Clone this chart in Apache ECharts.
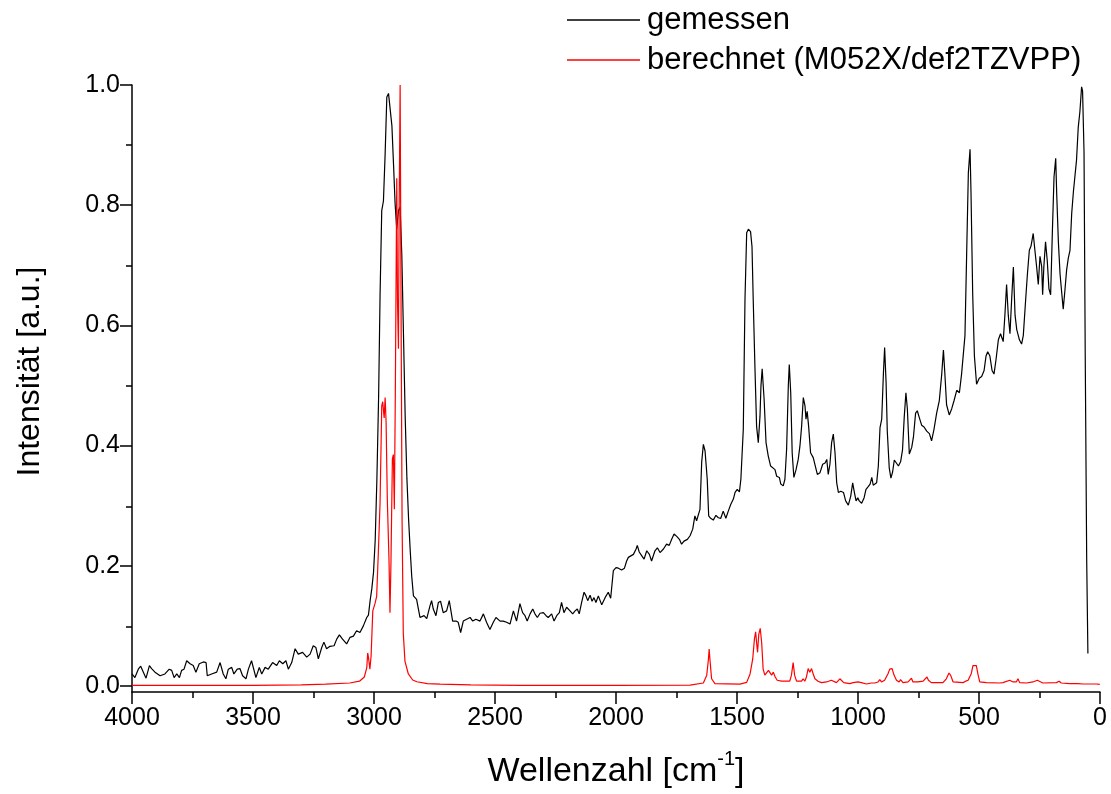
<!DOCTYPE html>
<html><head><meta charset="utf-8">
<script src="https://cdn.jsdelivr.net/npm/echarts@6/dist/echarts.min.js"></script>
<style>html,body{margin:0;padding:0;background:#fff}#c{width:1111px;height:794px}</style>
</head><body><div id="c"></div>
<script>
// measured spectrum (gemessen): wavenumber [cm-1] and intensity
const gemWn = [4000,3988,3974,3964,3953,3942,3928,3919,3905,3884,3864,3846,3836,3826,3815,3804,3795,3785,3774,3760,3747,3736,3722,3705,3694,3689,3671,3650,3636,3623,3612,3602,3588,3579,3565,3554,3543,3529,3519,3506,3499,3488,3474,3464,3450,3437,3419,3402,3391,3377,3364,3354,3340,3326,3313,3295,3278,3264,3251,3240,3230,3216,3207,3196,3182,3165,3154,3143,3130,3113,3099,3085,3072,3058,3044,3030,3023,
3016,3009,3002,2995,2988,2981,2975,2968,2961,2954,2947,2940,2933,2926,2919,2913,2906,2899,2892,2885,2878,2871,2864,2857,2850,2844,
2837,2824,2810,2803,2793,2782,2769,2762,2755,2744,2734,2725,2714,2700,2689,2683,2675,2661,2652,2642,2631,2617,2603,2592,2579,2562,2548,2535,2521,2507,2496,2479,2466,2452,2438,2424,2411,2397,
2386,2376,2367,2355,2344,2335,2325,2314,2300,2289,2280,2266,2256,2245,2234,2225,2215,2204,2190,2179,2169,2160,2152,2142,2132,2124,2117,2107,2099,2091,2083,2073,2059,2045,2032,2022,2011,2000,1990,
1977,1965,1956,1949,1942,1928,1917,1912,1904,1894,1884,1873,1862,1853,1839,1829,1818,1804,1791,1780,1770,1760,1749,1738,1729,1719,1705,1694,1683,1674,1667,1660,1653,1646,1639,1632,1628,1623,1617,1609,1598,1587,1577,1567,1557,1546,1536,1526,1515,1508,1499,1490,1484,1478,1474,
1467,1460,1453,1444,1438,1433,1426,1419,1412,1405,1401,1396,1388,1380,1371,1361,1353,1343,1336,1325,1319,1309,1302,1295,1288,1284,1278,1272,1265,1256,1247,1240,1233,1226,1219,1215,1210,1204,1196,1185,1178,1168,1157,1146,1136,1129,1123,1116,1109,1102,1095,1088,1081,1071,1060,1051,1040,1030,1022,1015,1008,1001,995,985,975,967,957,950,943,937,923,916,909,902,895,890,884,879,871,864,857,850,843,833,824,816,809,802,796,788,778,771,762,755,747,737,727,716,705,696,686,675,664,654,647,641,634,623,613,603,592,581,572,565,558,551,544,537,533,526,519,510,499,489,479,471,464,455,446,438,430,420,411,400,393,386,379,372,365,358,351,344,333,324,317,307,300,292,285,276,269,262,255,248,241,237,232,225,218,211,204,197,190,183,179,172,165,159,152,145,138,131,124,117,110,103,97,90,83,76,72,66,61,55,50];
const gemInt = [0.020,0.014,0.028,0.033,0.023,0.013,0.034,0.029,0.023,0.017,0.020,0.028,0.026,0.014,0.020,0.014,0.026,0.028,0.042,0.037,0.034,0.023,0.037,0.040,0.039,0.017,0.020,0.023,0.039,0.020,0.012,0.028,0.031,0.020,0.028,0.029,0.017,0.012,0.028,0.042,0.039,0.014,0.031,0.020,0.031,0.028,0.039,0.034,0.042,0.037,0.042,0.028,0.039,0.062,0.053,0.056,0.048,0.053,0.067,0.064,0.045,0.064,0.073,0.062,0.066,0.067,0.078,0.085,0.078,0.070,0.081,0.083,0.092,0.089,0.100,0.114,0.118,
0.142,0.162,0.189,0.243,0.345,0.480,0.649,0.791,0.807,0.885,0.980,0.986,0.959,0.932,0.865,0.804,0.760,0.791,0.797,0.716,0.581,0.446,0.345,0.277,0.223,0.182,
0.150,0.144,0.114,0.111,0.117,0.112,0.133,0.142,0.128,0.117,0.139,0.141,0.122,0.125,0.142,0.145,0.108,0.108,0.106,0.089,0.108,0.111,0.114,0.108,0.111,0.108,0.120,0.106,0.094,0.106,0.114,0.108,0.108,0.106,0.103,0.125,0.108,0.137,
0.122,0.117,0.108,0.120,0.128,0.120,0.114,0.121,0.122,0.117,0.114,0.120,0.108,0.117,0.122,0.139,0.122,0.131,0.125,0.120,0.125,0.128,0.120,0.139,0.156,0.150,0.142,0.151,0.141,0.147,0.139,0.150,0.135,0.147,0.156,0.146,0.192,0.197,0.196,
0.193,0.196,0.208,0.214,0.211,0.219,0.228,0.234,0.223,0.217,0.211,0.225,0.219,0.208,0.225,0.230,0.222,0.228,0.236,0.234,0.244,0.253,0.249,0.244,0.236,0.241,0.244,0.250,0.261,0.283,0.275,0.272,0.294,0.372,0.402,0.391,0.388,0.344,0.283,0.279,0.276,0.284,0.280,0.279,0.291,0.279,0.291,0.302,0.311,0.322,0.327,0.323,0.344,0.394,0.427,
0.643,0.754,0.760,0.756,0.731,0.643,0.532,0.432,0.405,0.449,0.499,0.528,0.477,0.405,0.383,0.366,0.369,0.360,0.349,0.347,0.336,0.333,0.344,0.394,0.499,0.535,0.488,0.388,0.347,0.360,0.377,0.399,0.432,0.480,0.466,0.444,0.457,0.432,0.388,0.380,0.377,0.352,0.355,0.369,0.371,0.377,0.352,0.369,0.405,0.419,0.388,0.338,0.322,0.324,0.322,0.308,0.301,0.316,0.338,0.322,0.308,0.313,0.308,0.304,0.313,0.327,0.332,0.336,0.347,0.334,0.338,0.366,0.430,0.444,0.520,0.563,0.506,0.424,0.363,0.346,0.356,0.376,0.373,0.366,0.373,0.393,0.447,0.488,0.461,0.386,0.397,0.414,0.454,0.458,0.447,0.434,0.431,0.424,0.420,0.408,0.427,0.454,0.475,0.519,0.559,0.519,0.468,0.451,0.461,0.475,0.492,0.488,0.519,0.522,0.583,0.719,0.854,0.893,0.820,0.651,0.549,0.502,0.512,0.515,0.525,0.549,0.556,0.549,0.525,0.519,0.542,0.576,0.586,0.573,0.617,0.668,0.617,0.586,0.644,0.697,0.617,0.593,0.576,0.569,0.583,0.644,0.685,0.725,0.732,0.753,0.725,0.698,0.668,0.715,0.698,0.651,0.698,0.739,0.708,0.661,0.651,0.753,0.847,0.878,0.820,0.739,0.685,0.658,0.627,0.658,0.692,0.712,0.725,0.786,0.822,0.820,0.875,0.929,0.956,0.997,0.990,0.888,0.549,0.210,0.054];

// calculated spectrum (berechnet, M052X/def2TZVPP)
const berWn = [4000,3500,3300,3200,3100,3060,3040,3030,3026,3022,3017,3012,3005,2996,2989,2982,2975,2968,2964,2958,2954,2950,2945,2938,2934,2930,2924,2920,2916,2912,2906,2903,2899,2896,2892,2888,2884,2879,2872,2858,2840,2823,2780,2727,2600,2400,2000,1694,1639,1625,1618,1615,1612,1605,1591,1488,1460,1446,1435,1428,1423,1419,1415,1410,1404,1398,1392,1385,1378,1370,1364,1357,1350,1342,1334,1316,1282,1275,1268,1262,1254,1233,1227,1220,1213,1206,1199,1192,1185,1178,1165,1151,1130,1110,1103,1089,1075,1068,1059,1034,1020,1000,993,986,965,945,938,931,917,910,903,890,883,876,869,865,859,852,841,830,824,814,793,779,773,752,731,724,715,709,697,649,635,624,617,607,566,555,545,532,525,518,511,504,497,470,415,401,373,366,359,346,339,332,304,277,259,252,236,180,169,160,125,91,84,70,36,29,15,1];
const berInt = [0.001,0.001,0.002,0.003,0.005,0.008,0.015,0.030,0.055,0.045,0.028,0.050,0.125,0.137,0.149,0.223,0.304,0.466,0.473,0.446,0.480,0.439,0.311,0.209,0.122,0.203,0.378,0.385,0.294,0.480,0.845,0.642,0.561,0.797,1.000,0.615,0.277,0.088,0.041,0.020,0.010,0.007,0.004,0.003,0.002,0.001,0.001,0.0015,0.005,0.018,0.045,0.0615,0.045,0.012,0.004,0.003,0.006,0.020,0.045,0.078,0.090,0.072,0.056,0.086,0.096,0.072,0.028,0.018,0.021,0.026,0.023,0.018,0.023,0.015,0.0095,0.008,0.008,0.018,0.039,0.018,0.008,0.008,0.012,0.008,0.015,0.029,0.023,0.029,0.020,0.012,0.008,0.0056,0.0067,0.0095,0.0095,0.0056,0.012,0.013,0.0056,0.004,0.0056,0.0067,0.0095,0.0056,0.0033,0.005,0.008,0.005,0.0067,0.0105,0.0067,0.0095,0.015,0.0205,0.028,0.0255,0.029,0.019,0.0095,0.0067,0.0105,0.0056,0.0067,0.013,0.0067,0.0067,0.008,0.0095,0.015,0.0095,0.0056,0.0056,0.012,0.0216,0.0177,0.0067,0.0056,0.008,0.0095,0.0205,0.034,0.037,0.034,0.019,0.0067,0.0056,0.005,0.0056,0.0095,0.012,0.0067,0.0067,0.012,0.0056,0.005,0.0067,0.0095,0.0067,0.005,0.0056,0.008,0.005,0.004,0.004,0.0056,0.0033,0.0033,0.0056,0.0033,0.0027];

const yTicks = [0, 0.2, 0.4, 0.6, 0.8, 1.0];
const yMinorTicks = [0.1, 0.3, 0.5, 0.7, 0.9];
const seriesNames = ['gemessen', 'berechnet (M052X/def2TZVPP)'];

const FONT = 'Liberation Sans, Arial, sans-serif';
const zip = (a, b) => a.map((v, i) => [v, b[i]]);
const chart = echarts.init(document.getElementById('c'), null, {renderer: 'canvas'});
const gridBox = {left: 132, right: 11, top: 85, bottom: 101, containLabel: false};
const tickStyle = {color: '#000', width: 1.5};
chart.setOption({
  animation: false,
  backgroundColor: '#fff',
  grid: [Object.assign({}, gridBox), Object.assign({}, gridBox)],
  legend: {
    orient: 'vertical', left: 567, top: 2, padding: 0, itemGap: 4,
    itemWidth: 73, itemHeight: 1.3, icon: 'rect',
    textStyle: {fontFamily: FONT, fontSize: 31, color: '#000', lineHeight: 36, padding: [0, 0, 0, 2]},
    data: seriesNames
  },
  xAxis: [{
    type: 'value', inverse: true, min: 0, max: 4000, interval: 500, gridIndex: 0,
    axisLine: {show: true, onZero: false, lineStyle: tickStyle},
    splitLine: {show: false},
    name: '{a|Wellenzahl [cm}{s|-1}{a|]}', nameLocation: 'middle', nameGap: 57,
    nameTextStyle: {rich: {
      a: {fontFamily: FONT, fontSize: 34, color: '#000', lineHeight: 40, verticalAlign: 'bottom'},
      s: {fontFamily: FONT, fontSize: 20, color: '#000', lineHeight: 40, verticalAlign: 'top'}
    }},
    axisTick: {show: true, inside: false, length: 12, lineStyle: tickStyle},
    minorTick: {show: true, splitNumber: 2, length: 6, lineStyle: tickStyle},
    axisLabel: {fontFamily: FONT, fontSize: 25, color: '#000', margin: 14, formatter: v => String(v)}
  }, {
    type: 'value', inverse: true, min: 0, max: 4000, gridIndex: 1, show: false
  }],
  yAxis: [{
    type: 'value', min: -0.01, max: 1.0, gridIndex: 0, position: 'left',
    axisLine: {show: true, onZero: false, lineStyle: tickStyle},
    splitLine: {show: false},
    name: 'Intensität [a.u.]', nameLocation: 'middle', nameGap: 86,
    nameTextStyle: {fontFamily: FONT, fontSize: 32, color: '#000', padding: [0, 0, 0, 34]},
    axisTick: {show: true, inside: false, length: 12, customValues: yTicks, lineStyle: tickStyle},
    axisLabel: {fontFamily: FONT, fontSize: 25, color: '#000', margin: 12, customValues: yTicks,
      formatter: v => v.toFixed(1)}
  }, {
    type: 'value', min: -0.01, max: 1.0, gridIndex: 1, position: 'left',
    axisLine: {show: false, onZero: false}, splitLine: {show: false}, axisLabel: {show: false},
    axisTick: {show: true, inside: false, length: 6, customValues: yMinorTicks, lineStyle: tickStyle}
  }],
  series: [
    {name: seriesNames[0], type: 'line', xAxisIndex: 0, yAxisIndex: 0, data: zip(gemWn, gemInt),
     symbol: 'none', showSymbol: false,
     lineStyle: {color: '#000', width: 1.2}, itemStyle: {color: '#000'}, z: 2},
    {name: seriesNames[1], type: 'line', xAxisIndex: 0, yAxisIndex: 0, data: zip(berWn, berInt),
     symbol: 'none', showSymbol: false,
     lineStyle: {color: '#ff0000', width: 1.2}, itemStyle: {color: '#ff0000'}, z: 3}
  ]
});
</script></body></html>
